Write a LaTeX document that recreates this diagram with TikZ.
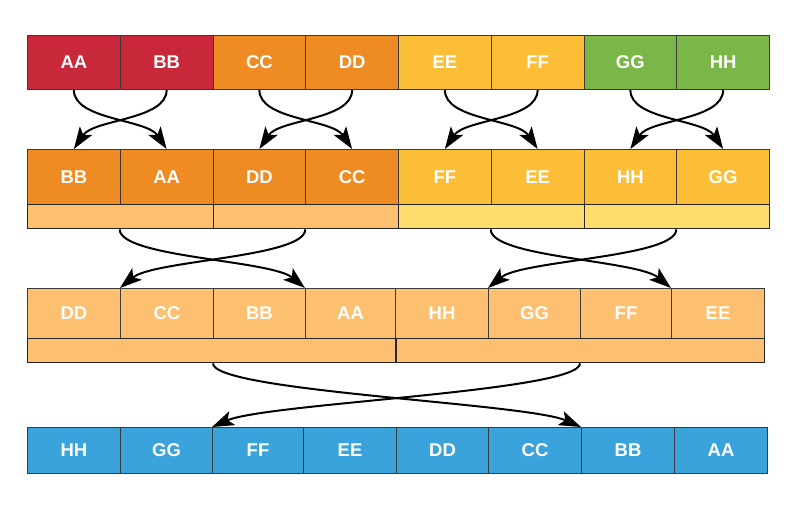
\documentclass[tikz,border=0pt]{standalone}
\usepackage{fontspec}
\setmainfont{Liberation Sans}
\usetikzlibrary{arrows.meta}
\definecolor{cred}{HTML}{C8283A}
\definecolor{corange}{HTML}{EE8B22}
\definecolor{cyellow}{HTML}{FBBE36}
\definecolor{cgreen}{HTML}{7AB648}
\definecolor{clorange}{HTML}{FDC070}
\definecolor{clyellow}{HTML}{FEDD6E}
\definecolor{cblue}{HTML}{3AA3DB}
\definecolor{cborder}{HTML}{3A3A3A}
\tikzset{
  cell/.style={draw=cborder, line width=1pt, inner sep=0pt, anchor=north west,
    text=white, font=\fontsize{18.5}{18.5}\selectfont\bfseries},
  bar/.style={draw=black!85, line width=1.4pt, inner sep=0pt, anchor=north west},
  xarrow/.style={line width=2pt, -{Stealth[length=22pt,width=15pt,inset=5pt]}},
}
\begin{document}
\begin{tikzpicture}[x=1pt,y=-1pt]
\useasboundingbox (0,0) rectangle (800,504);
% Row 1
\def\cw{92.75}
\foreach \lab/\col [count=\i from 0] in {AA/cred,BB/cred,CC/corange,DD/corange,EE/cyellow,FF/cyellow,GG/cgreen,HH/cgreen}{
  \node[cell, fill=\col, minimum width=\cw pt, minimum height=54pt] (a\lab) at (27+\i*\cw,35) {\lab};
}
% Row 2
\foreach \lab/\col [count=\i from 0] in {BB/corange,AA/corange,DD/corange,CC/corange,FF/cyellow,EE/cyellow,HH/cyellow,GG/cyellow}{
  \node[cell, fill=\col, minimum width=\cw pt, minimum height=55pt] (b\lab) at (27+\i*\cw,149) {\lab};
}
\node[bar, fill=clorange, minimum width=2*\cw pt, minimum height=24pt] (bbar1) at (27,204) {};
\node[bar, fill=clorange, minimum width=2*\cw pt, minimum height=24pt] (bbar2) at (27+2*\cw,204) {};
\node[bar, fill=clyellow, minimum width=2*\cw pt, minimum height=24pt] (bbar3) at (27+4*\cw,204) {};
\node[bar, fill=clyellow, minimum width=2*\cw pt, minimum height=24pt] (bbar4) at (27+6*\cw,204) {};
% Row 3
\foreach \lab/\x/\w in {DD/27/93,CC/120/93,BB/213/92,AA/305/90,HH/395/93,GG/488/92,FF/580/91,EE/671/93}{
  \node[cell, fill=clorange, minimum width=\w pt, minimum height=50pt] (c\lab) at (\x,288) {\lab};
}
\node[bar, fill=clorange, minimum width=368pt, minimum height=24pt] (cbar1) at (27,338) {};
\node[bar, fill=clorange, minimum width=368pt, minimum height=24pt] (cbar2) at (396,338) {};
% Row 4
\foreach \lab/\x/\w in {HH/27/93,GG/120/92,FF/212/91,EE/303/93,DD/396/92,CC/488/93,BB/581/93,AA/674/93}{
  \node[cell, fill=cblue, minimum width=\w pt, minimum height=46pt] (d\lab) at (\x,427) {\lab};
}
% Arrows row1 -> row2
\foreach \s/\t in {AA/AA,CC/CC,EE/EE,GG/GG}{
  \draw[xarrow] (a\s.south) .. controls +(0,30) and +(-20,-30) .. (b\t.north);
}
\foreach \s/\t in {BB/BB,DD/DD,FF/FF,HH/HH}{
  \draw[xarrow] (a\s.south) .. controls +(0,30) and +(20,-30) .. (b\t.north);
}
% Arrows row2 -> row3
\draw[xarrow] (bAA.west |- bbar1.south) .. controls +(0,28) and +(-34,-28) .. (cAA.north west);
\draw[xarrow] (bCC.west |- bbar2.south) .. controls +(0,28) and +(34,-28) .. (cCC.north west);
\draw[xarrow] (bEE.west |- bbar3.south) .. controls +(0,28) and +(-34,-28) .. (cEE.north west);
\draw[xarrow] (bGG.west |- bbar4.south) .. controls +(0,28) and +(34,-28) .. (cGG.north west);
% Arrows row3 -> row4
\draw[xarrow] (cBB.west |- cbar1.south) .. controls +(0,28) and +(-55,-24) .. (dBB.north west);
\draw[xarrow] (cFF.west |- cbar2.south) .. controls +(0,28) and +(55,-24) .. (dFF.north west);
\end{tikzpicture}
\end{document}
